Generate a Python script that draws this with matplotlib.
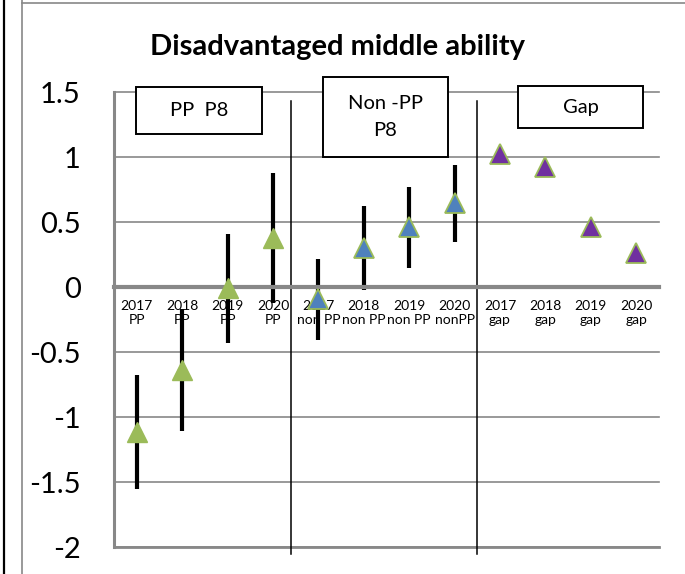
import numpy as np
import matplotlib
matplotlib.use("Agg")
from matplotlib import pyplot as plt
from matplotlib.lines import Line2D
from matplotlib.patches import Rectangle

plt.rcParams['font.family'] = ['Lato', 'DejaVu Sans']

# data
labels = ['2017\nPP', '2018\nPP', '2019\nPP', '2020\nPP',
          '2017\nnon PP', '2018\nnon PP', '2019\nnon PP', '2020\nnonPP',
          '2017\ngap', '2018\ngap', '2019\ngap', '2020\ngap']
pp_vals = [-1.115, -0.64, -0.01, 0.38]
pp_err = [0.44, 0.47, 0.42, 0.50]
nonpp_vals = [-0.095, 0.30, 0.46, 0.645]
nonpp_err = [0.31, 0.32, 0.31, 0.295]
gap_vals = [1.02, 0.92, 0.46, 0.26]
yticks = [-2, -1.5, -1, -0.5, 0, 0.5, 1, 1.5]
ytick_labels = ['-2', '-1.5', '-1', '-0.5', '0', '0.5', '1', '1.5']

W, H = 685, 574
GREEN = '#9BBB59'
BLUE = '#4F81BD'
PURPLE = '#7030A0'
GRID = '#888888'


def px(x, y):
    # pixel position -> figure fraction
    return x / W, 1 - y / H


fig = plt.figure(figsize=(W / 100, H / 100), dpi=100)
ax = fig.add_axes([114 / W, 1 - 547 / H, 545 / W, 455 / H])

x_pp = np.arange(0, 4)
x_non = np.arange(4, 8)
x_gap = np.arange(8, 12)

# error bars first, triangles on top
ax.errorbar(x_pp, pp_vals, yerr=pp_err, fmt='none', ecolor='black',
            elinewidth=3, capsize=0, zorder=2, clip_on=False)
ax.errorbar(x_non, nonpp_vals, yerr=nonpp_err, fmt='none', ecolor='black',
            elinewidth=3, capsize=0, zorder=2, clip_on=False)
ax.plot(x_pp, pp_vals, '^', ms=14, mfc=GREEN, mec=GREEN, mew=1, ls='none', zorder=3)
ax.plot(x_non, nonpp_vals, '^', ms=14, mfc=BLUE, mec=GREEN, mew=1.3, ls='none', zorder=3)
ax.plot(x_gap, gap_vals, '^', ms=14, mfc=PURPLE, mec=GREEN, mew=1.3, ls='none', zorder=3)

# section separators
for sx in [3.4, 7.5]:
    ax.plot([sx, sx], [-2.05, 1.43], color='black', lw=1.1, clip_on=False, zorder=2.5)

ax.set_xlim(-0.5, 11.5)
ax.set_ylim(-2, 1.5)
ax.set_yticks(yticks)
ax.set_yticklabels(ytick_labels, fontsize=21)
ax.set_xticks(np.arange(len(labels)))
ax.set_xticklabels(labels, fontsize=13, linespacing=1.2)
ax.tick_params(axis='y', length=0, pad=24)
ax.tick_params(axis='x', length=0, pad=9)

ax.yaxis.grid(True, color=GRID, lw=1.2)
for gl in ax.get_ygridlines():
    gl.set_clip_on(False)
ax.set_axisbelow('line')

for s in ['top', 'right']:
    ax.spines[s].set_visible(False)
ax.spines['left'].set_color(GRID)
ax.spines['left'].set_linewidth(2.2)
ax.spines['bottom'].set_position(('data', 0))
ax.spines['bottom'].set_color(GRID)
ax.spines['bottom'].set_linewidth(3)
ax.axhline(-2, color=GRID, lw=2, clip_on=False, zorder=1)

# title
fig.text(*px(337, 47), 'Disadvantaged middle ability', ha='center', va='center',
         fontsize=21, fontweight='bold')

# label boxes
boxes = [((136, 87, 262, 134), 'PP  P8'),
         ((323, 77, 448, 157), 'Non -PP\nP8'),
         ((518, 86, 643, 128), 'Gap')]
for (x0, y0, x1, y1), txt in boxes:
    fx0, fy1 = px(x0, y1)
    fig.add_artist(Rectangle((fx0, fy1), (x1 - x0) / W, (y1 - y0) / H,
                             transform=fig.transFigure, facecolor='white',
                             edgecolor='black', lw=1.4, zorder=5))
    fig.text(*px((x0 + x1) / 2, (y0 + y1) / 2), txt, ha='center', va='center',
             fontsize=14.5, linespacing=1.65, zorder=6)

# page frame lines
fig.add_artist(Line2D([4 / W, 4 / W], [0, 1], color='black', lw=1.6,
                      transform=fig.transFigure))
fig.add_artist(Line2D([22 / W, 22 / W], [0, 1], color=GRID, lw=1.2,
                      transform=fig.transFigure))
fig.add_artist(Line2D([22 / W, 1], [1 - 3 / H, 1 - 3 / H], color=GRID, lw=1.2,
                      transform=fig.transFigure))

fig.savefig('out.png', dpi=100)
